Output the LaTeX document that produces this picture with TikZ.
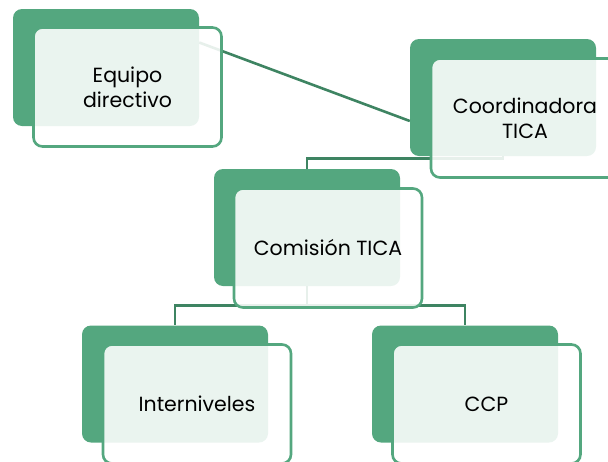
\documentclass[tikz,border=0pt]{standalone}
\usepackage{fontspec}
\setmainfont{Poppins}
\usepackage{tikz}
\usetikzlibrary{positioning,calc}

\definecolor{boxgreen}{RGB}{84,167,127}
\definecolor{linegreen}{RGB}{62,132,98}

\begin{document}
\begin{tikzpicture}[x=1pt,y=-1pt,
    backbox/.style={fill=boxgreen,rounded corners=9pt,
      minimum width=186pt,minimum height=117pt,inner sep=0pt},
    frontbox/.style={draw=boxgreen,line width=2.6pt,fill=white,
      fill opacity=0.88,text opacity=1,rounded corners=9pt,
      minimum width=188pt,minimum height=119pt,inner sep=0pt,
      align=center,font=\fontsize{20.5}{25}\selectfont},
    link/.style={draw=linegreen,line width=2.6pt}]

  \useasboundingbox (0,0) rectangle (608,461);

  % back boxes
  \node[backbox] (equipoB) at (106,67.5) {};
  \node[backbox] (coordB) at (503,97.5) {};
  \node[backbox] (comisionB) at (307,227.5) {};
  \node[backbox] (interB) at (175,384) {};
  \node[backbox] (ccpB) at (465,384) {};

  % connectors
  \draw[link] ([yshift=25pt]equipoB.east) -- ([yshift=-23.5pt]coordB.west);
  \draw[link] (coordB.south) -- ++(0,2) -| (comisionB.north);
  \draw[link] (comisionB.south) -- ++(0,19) coordinate (split);
  \draw[link] (split) -| (interB.north);
  \draw[link] (split) -| (ccpB.north);

  % front boxes
  \node[frontbox] (equipo) at (127.5,87) {Equipo\\directivo};
  \node[frontbox] (coord) at (525,118) {Coordinadora\\TICA};
  \node[frontbox] (comision) at (328,248) {Comisión TICA};
  \node[frontbox] (inter) at (197,404) {Interniveles};
  \node[frontbox] (ccp) at (486.5,404) {CCP};

\end{tikzpicture}
\end{document}
